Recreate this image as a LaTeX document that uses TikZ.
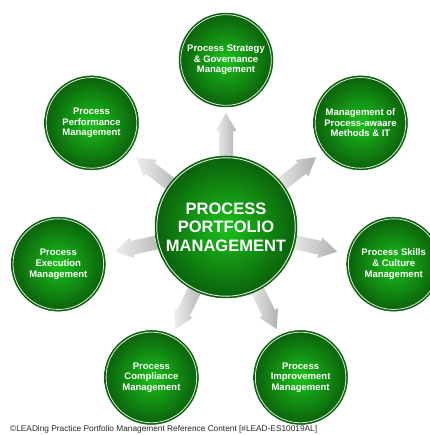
\documentclass[tikz,border=0pt]{standalone}
\usepackage{fontspec}
\setmainfont{Liberation Sans}
\usetikzlibrary{backgrounds,calc}
\definecolor{lysgroen}{RGB}{28,192,28}
\definecolor{moerkgroen}{RGB}{10,96,10}

\begin{document}
\begin{tikzpicture}[
        x=1pt, y=1pt,
        sirkel/.style = {circle, draw=moerkgroen, line width=0.5pt, inner sep=0pt,
          minimum size=94pt, inner color=lysgroen, outer color=moerkgroen,
          text=white, align=center, font=\bfseries\fontsize{9.5}{10.6}\selectfont,
          path picture={\draw[white, line width=0.8pt, opacity=0.85]
            (path picture bounding box.center) circle[radius=45.3pt];}},
        midt/.style = {sirkel, minimum size=142pt,
          font=\bfseries\fontsize{16.5}{18.5}\selectfont,
          path picture={\draw[white, line width=0.9pt, opacity=0.85]
            (path picture bounding box.center) circle[radius=69.2pt];}},
        pil/.style = {left color=gray!12, right color=gray!62},
        fot/.style = {anchor=base west, inner sep=0pt, text=black!85, font=\fontsize{8.3}{10}\selectfont}
        ]

  \useasboundingbox (0,0) rectangle (429,435);

  \node[midt] (ppm) at (226,208) {PROCESS\\PORTFOLIO\\MANAGEMENT};
  \node[sirkel] (strategy) at ($(ppm)+(90:172 and 167)$) {Process Strategy\\\& Governance\\Management};
  \node[sirkel] (methods) at ($(ppm)+(38.57:172 and 167)$) {Management of\\Process-awaare\\Methods \& IT};
  \node[sirkel] (skills) at ($(ppm)+(-12.86:172 and 167)$) {Process Skills\\\& Culture\\Management};
  \node[sirkel] (improvement) at ($(ppm)+(-64.29:172 and 167)$) {Process\\Improvement\\Management};
  \node[sirkel] (compliance) at ($(ppm)+(-115.71:172 and 167)$) {Process\\Compliance\\Management};
  \node[sirkel] (execution) at ($(ppm)+(192.86:172 and 167)$) {Process\\Execution\\Management};
  \node[sirkel] (performance) at ($(ppm)+(141.43:172 and 167)$) {Process\\Performance\\Management};

  \node[fot] (kilde) at (10,4) {©LEADing Practice Portfolio Management Reference Content [\#LEAD-ES10019AL]};

  % block arrows from the middle out to each circle
  \begin{scope}[on background layer]
    \foreach \o in {strategy,methods,skills,improvement,compliance,execution,performance}
      \shade[pil] let \p1 = ($(\o)-(ppm)$), \n1 = {atan2(\y1,\x1)} in
        [shift={(ppm)}, rotate=\n1] (62,-7) -- (96,-7) -- (96,-10.5) -- (114,0)
        -- (96,10.5) -- (96,7) -- (62,7) -- cycle;
  \end{scope}

\end{tikzpicture}
\end{document}
